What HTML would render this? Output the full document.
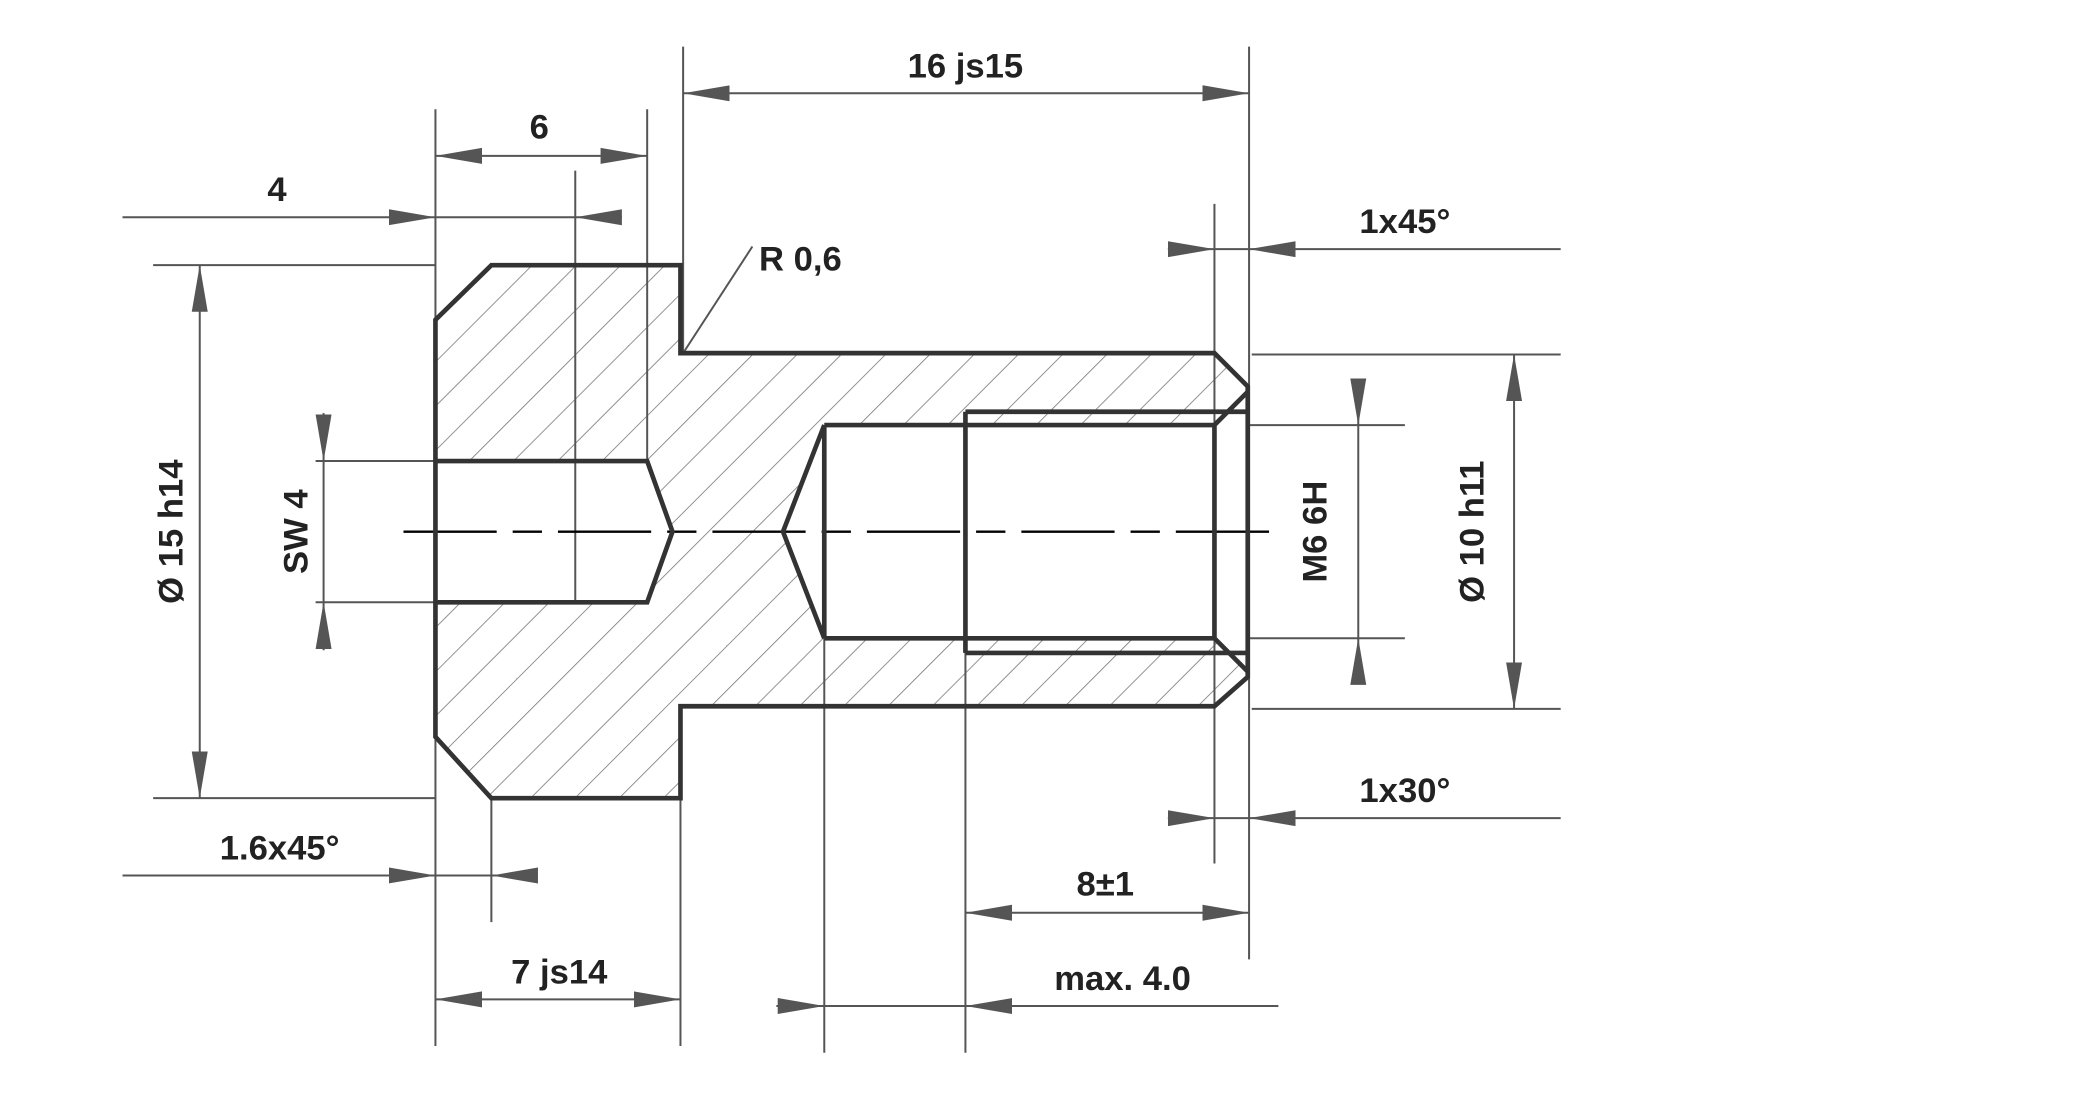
<!DOCTYPE html>
<html><head><meta charset="utf-8"><style>
html,body{margin:0;padding:0;background:#fff}
svg{display:block}
text{font-family:"Liberation Sans",Arial,sans-serif;font-weight:bold;font-size:26px;fill:#222}
</style></head><body>
<svg width="2088" height="1094" viewBox="0 0 1568 821" preserveAspectRatio="none" xmlns="http://www.w3.org/2000/svg">
<defs>
<marker id="a" markerUnits="userSpaceOnUse" markerWidth="36" markerHeight="14" refX="35" refY="7" orient="auto-start-reverse">
<path d="M0,1 L35,7 L0,13 Z" fill="#555"/>
</marker>
<pattern id="h" patternUnits="userSpaceOnUse" width="23.5" height="23.5" patternTransform="rotate(45)">
<line x1="0" y1="0" x2="0" y2="23.5" stroke="#777" stroke-width="1.2"/>
</pattern>
</defs>
<rect width="1568" height="821" fill="#fff"/>
<path d="M327,240 L369,199 L511,199 L511,265 L912,265 L937,290 L937,508 L912,530 L511,530 L511,599 L369,599 L327,553 Z" fill="url(#h)"/>
<path d="M327,346 L486,346 L505,399 L486,452 L327,452 Z" fill="#fff"/>
<path d="M588,399 L619,319 L912,319 L937,294 L937,504 L912,479 L619,479 Z" fill="#fff"/>
<g fill="none" stroke="#555" stroke-width="1.5">
<line x1="513" y1="35" x2="513" y2="265"/><line x1="938" y1="35" x2="938" y2="720"/>
<line x1="513" y1="70" x2="938" y2="70" marker-start="url(#a)" marker-end="url(#a)"/>
<line x1="327" y1="82" x2="327" y2="785"/><line x1="486" y1="82" x2="486" y2="346"/>
<line x1="327" y1="117" x2="486" y2="117" marker-start="url(#a)" marker-end="url(#a)"/>
<line x1="92" y1="163" x2="327" y2="163" marker-end="url(#a)"/>
<line x1="467" y1="163" x2="327" y2="163"/>
<path d="M467,157 L432,163 L467,169 Z" fill="#555" stroke="none"/>
<line x1="432" y1="128" x2="432" y2="452"/>
<line x1="115" y1="199" x2="327" y2="199"/><line x1="115" y1="599" x2="327" y2="599"/>
<line x1="150" y1="199" x2="150" y2="599" marker-start="url(#a)" marker-end="url(#a)"/>
<line x1="237" y1="346" x2="327" y2="346"/><line x1="237" y1="452" x2="327" y2="452"/>
<line x1="243" y1="310" x2="243" y2="346" marker-end="url(#a)"/>
<line x1="243" y1="346" x2="243" y2="452"/>
<line x1="243" y1="488" x2="243" y2="452" marker-end="url(#a)"/>
<line x1="513" y1="265" x2="565" y2="185"/>
<line x1="877" y1="187" x2="912" y2="187" marker-end="url(#a)"/>
<line x1="1172" y1="187" x2="938" y2="187" marker-end="url(#a)"/>
<line x1="912" y1="187" x2="938" y2="187"/>
<line x1="912" y1="153" x2="912" y2="648"/>
<line x1="937" y1="319" x2="1055" y2="319"/><line x1="937" y1="479" x2="1055" y2="479"/>
<line x1="1020" y1="285" x2="1020" y2="319" marker-end="url(#a)"/>
<line x1="1020" y1="319" x2="1020" y2="479"/>
<line x1="1020" y1="513" x2="1020" y2="479" marker-end="url(#a)"/>
<line x1="940" y1="266" x2="1172" y2="266"/><line x1="940" y1="532" x2="1172" y2="532"/>
<line x1="1137" y1="266" x2="1137" y2="532" marker-start="url(#a)" marker-end="url(#a)"/>
<line x1="877" y1="614" x2="912" y2="614" marker-end="url(#a)"/>
<line x1="1172" y1="614" x2="938" y2="614" marker-end="url(#a)"/>
<line x1="912" y1="614" x2="938" y2="614"/>
<line x1="92" y1="657" x2="327" y2="657" marker-end="url(#a)"/>
<line x1="403" y1="657" x2="369" y2="657" marker-end="url(#a)"/>
<line x1="327" y1="657" x2="369" y2="657"/>
<line x1="369" y1="599" x2="369" y2="692"/>
<line x1="725" y1="479" x2="725" y2="790"/>
<line x1="725" y1="685" x2="938" y2="685" marker-start="url(#a)" marker-end="url(#a)"/>
<line x1="511" y1="530" x2="511" y2="785"/>
<line x1="327" y1="750" x2="511" y2="750" marker-start="url(#a)" marker-end="url(#a)"/>
<line x1="619" y1="479" x2="619" y2="790"/>
<line x1="583" y1="755" x2="619" y2="755" marker-end="url(#a)"/>
<line x1="960" y1="755" x2="725" y2="755" marker-end="url(#a)"/>
<line x1="619" y1="755" x2="725" y2="755"/>
</g>
<line x1="303" y1="399" x2="960" y2="399" stroke="#000" stroke-width="1.8" stroke-dasharray="70,12,22,12"/>
<g fill="none" stroke="#333" stroke-width="3.5" stroke-linejoin="miter">
<path d="M327,240 L369,199 L511,199 L511,265 L912,265 L937,290 L937,508 L912,530 L511,530 L511,599 L369,599 L327,553 Z"/>
<path d="M327,346 L486,346 L505,399 L486,452 L327,452"/>
<path d="M619,319 L912,319 L937,294 M619,479 L912,479 L937,504 M619,319 L588,399 L619,479 M619,319 L619,479 M912,319 L912,479"/>
<path d="M725,309 L937,309 M725,490 L937,490 M725,309 L725,490"/>
</g>
<text x="725" y="58" text-anchor="middle">16 js15</text>
<text x="405" y="104" text-anchor="middle">6</text>
<text x="208" y="151" text-anchor="middle">4</text>
<text x="570" y="203">R 0,6</text>
<text x="1055" y="175" text-anchor="middle">1x45°</text>
<text x="1055" y="602" text-anchor="middle">1x30°</text>
<text x="210" y="645" text-anchor="middle">1.6x45°</text>
<text x="830" y="672" text-anchor="middle">8±1</text>
<text x="420" y="738" text-anchor="middle">7 js14</text>
<text x="843" y="743" text-anchor="middle">max. 4.0</text>
<text transform="translate(137,399) rotate(-90)" text-anchor="middle">Ø 15 h14</text>
<text transform="translate(231,399) rotate(-90)" text-anchor="middle">SW 4</text>
<text transform="translate(996,399) rotate(-90)" text-anchor="middle">M6 6H</text>
<text transform="translate(1114,399) rotate(-90)" text-anchor="middle">Ø 10 h11</text>
</svg>
</body></html>
